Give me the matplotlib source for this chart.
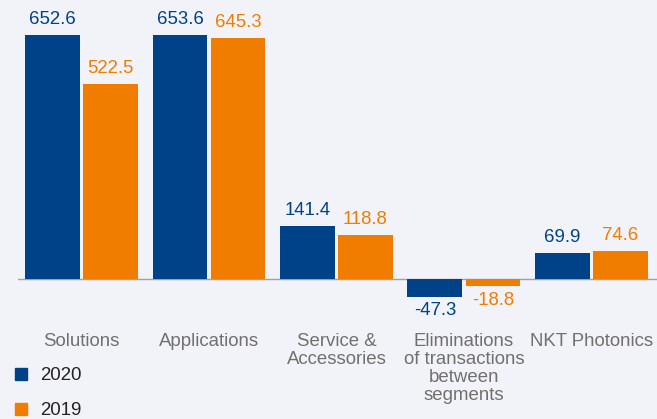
import matplotlib
matplotlib.use("Agg")
import matplotlib.pyplot as plt
from matplotlib.lines import Line2D
import numpy as np

categories = ["Solutions", "Applications", "Service &\nAccessories",
              "Eliminations\nof transactions\nbetween\nsegments", "NKT Photonics"]
values_2020 = [652.6, 653.6, 141.4, -47.3, 69.9]
values_2019 = [522.5, 645.3, 118.8, -18.8, 74.6]
series_labels = ["2020", "2019"]

BLUE = "#004287"
ORANGE = "#f07c00"
BG = "#f2f3f8"
FONT = "Liberation Sans"

W, H = 657, 419
fig = plt.figure(figsize=(W / 100, H / 100), dpi=100, facecolor=BG)
ax = fig.add_axes([18 / W, 0, 639 / W, 1])
ax.set_facecolor(BG)

x = np.arange(len(categories))
bw = 0.431
off = 0.2275

bars_a = ax.bar(x - off, values_2020, width=bw, color=BLUE, zorder=2)
bars_b = ax.bar(x + off, values_2019, width=bw, color=ORANGE, zorder=2)

ax.axhline(0, color="#a0a0a8", lw=1.0, zorder=1)

ax.set_xlim(-0.498, 4.514)
ax.set_ylim(-375, 747)
for s in ax.spines.values():
    s.set_visible(False)
ax.set_xticks([])
ax.set_yticks([])

fs = 13.4
for bars, vals, col in [(bars_a, values_2020, BLUE), (bars_b, values_2019, ORANGE)]:
    for b, v in zip(bars, vals):
        cx = b.get_x() + b.get_width() / 2
        if v >= 0:
            ax.annotate(f"{v:.1f}", (cx, v), xytext=(0, 5), textcoords="offset points",
                        ha="center", va="bottom", color=col, fontsize=fs, family=FONT)
        else:
            ax.annotate(f"{v:.1f}", (cx, v), xytext=(0, -4), textcoords="offset points",
                        ha="center", va="top", color=col, fontsize=fs, family=FONT)

label_y = (279 - 333) / 0.3735
for xi, name in zip(x, categories):
    ax.text(xi, label_y, name, ha="center", va="top", color="#707070",
            fontsize=fs, family=FONT, linespacing=1.07)

handles = [Line2D([], [], marker="s", ls="", color=BLUE, markersize=9),
           Line2D([], [], marker="s", ls="", color=ORANGE, markersize=9)]
leg = fig.legend(handles, series_labels, loc="upper left",
                 bbox_to_anchor=(14 / W, 1 - 367 / H), frameon=False,
                 handlelength=0.8, handletextpad=0.6, labelspacing=0.98,
                 borderpad=0, borderaxespad=0,
                 prop={"family": FONT, "size": fs})
for t in leg.get_texts():
    t.set_color("#222222")

fig.savefig("out.png", dpi=100, facecolor=BG)
